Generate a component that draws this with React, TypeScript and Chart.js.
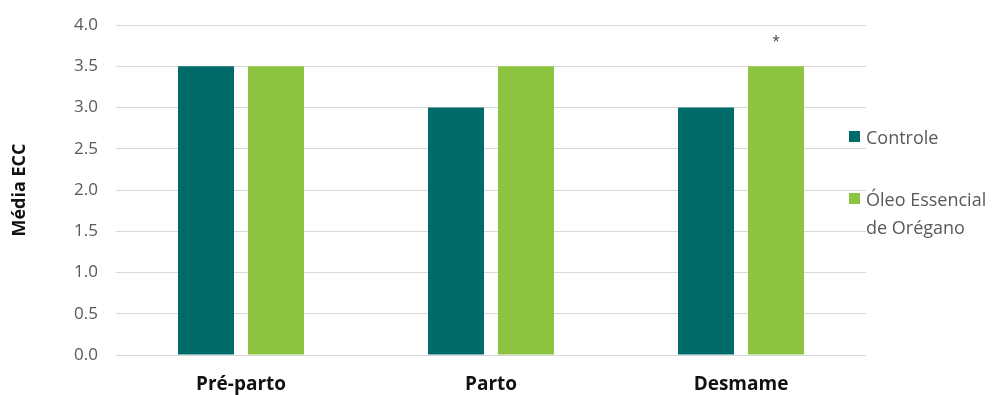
import React, { useEffect, useRef } from "react";
import { Chart, registerables } from "chart.js";

Chart.register(...registerables);

const categories = ["Pré-parto", "Parto", "Desmame"];
const controleValues = [3.5, 3.0, 3.0];
const oleoValues = [3.5, 3.5, 3.5];
const seriesNames = ["Controle", "Óleo Essencial de Orégano"];
const legendLines = [["Controle"], ["Óleo Essencial", "de Orégano"]];
const yTitle = "Média ECC";
// significance marks: [datasetIndex, categoryIndex, text]
const marks: [number, number, string][] = [[1, 2, "*"]];

const colors = ["#006B6B", "#8CC43F"];

const markPlugin = {
  id: "marks",
  afterDatasetsDraw(chart: any) {
    const ctx = chart.ctx;
    ctx.save();
    ctx.fillStyle = "#404040";
    ctx.font = "14px 'Open Sans'";
    ctx.textAlign = "center";
    ctx.textBaseline = "middle";
    for (const [ds, ci, txt] of marks) {
      const el = chart.getDatasetMeta(ds).data[ci];
      ctx.fillText(txt, el.x, el.y - 24);
    }
    ctx.restore();
  },
};

export default function App() {
  const ref = useRef<HTMLCanvasElement>(null);
  useEffect(() => {
    const chart = new Chart(ref.current!, {
      type: "bar",
      data: {
        labels: categories,
        datasets: [
          { label: seriesNames[0], data: controleValues, backgroundColor: colors[0] },
          { label: seriesNames[1], data: oleoValues, backgroundColor: colors[1] },
        ],
      },
      options: {
        animation: false,
        responsive: false,
        maintainAspectRatio: false,
        layout: { padding: { top: 25, right: 133, left: 0, bottom: 0 } },
        datasets: { bar: { barPercentage: 0.8, categoryPercentage: 0.56 } },
        plugins: { legend: { display: false }, tooltip: { enabled: false } },
        scales: {
          x: {
            grid: { display: false, drawTicks: false },
            border: { display: false },
            ticks: {
              color: "#111",
              padding: 18,
              font: { family: "'Open Sans'", size: 19, weight: "bold" },
            },
            afterFit(scale: any) {
              scale.height = 40;
              scale.paddingLeft = 0;
              scale.paddingRight = 0;
            },
          },
          y: {
            min: 0,
            max: 4,
            ticks: {
              stepSize: 0.5,
              color: "#595959",
              padding: 18,
              font: { family: "'Open Sans'", size: 17 },
              callback: (v: any) => Number(v).toFixed(1),
            },
            grid: { color: "#D9D9D9", lineWidth: 1, drawTicks: false },
            border: { display: false },
            title: {
              display: true,
              text: yTitle,
              color: "#111",
              font: { family: "'Open Sans'", size: 18, weight: "bold" },
              padding: { top: 9, bottom: 0 },
            },
            afterFit(scale: any) {
              scale.width = 116;
              scale.paddingTop = 0;
              scale.paddingBottom = 0;
            },
          },
        },
      },
      plugins: [markPlugin],
    });
    return () => chart.destroy();
  }, []);

  const legendTops = [123, 185];
  return (
    <div style={{ position: "fixed", left: 0, top: 0, width: 999, height: 395, background: "#fff" }}>
      <canvas ref={ref} width={999} height={395} style={{ position: "absolute", left: 0, top: 0 }} />
      {legendLines.map((lines, i) => (
        <div
          key={i}
          style={{
            position: "absolute",
            left: 849,
            top: legendTops[i],
            display: "flex",
            alignItems: "flex-start",
            fontFamily: "'Open Sans'",
            fontSize: 18,
            color: "#595959",
            lineHeight: "28px",
            whiteSpace: "nowrap",
          }}
        >
          <span
            style={{
              display: "inline-block",
              width: 11,
              height: 11,
              background: colors[i],
              marginTop: 8,
              marginRight: 6,
            }}
          />
          <span>
            {lines.map((l, j) => (
              <div key={j}>{l}</div>
            ))}
          </span>
        </div>
      ))}
    </div>
  );
}
